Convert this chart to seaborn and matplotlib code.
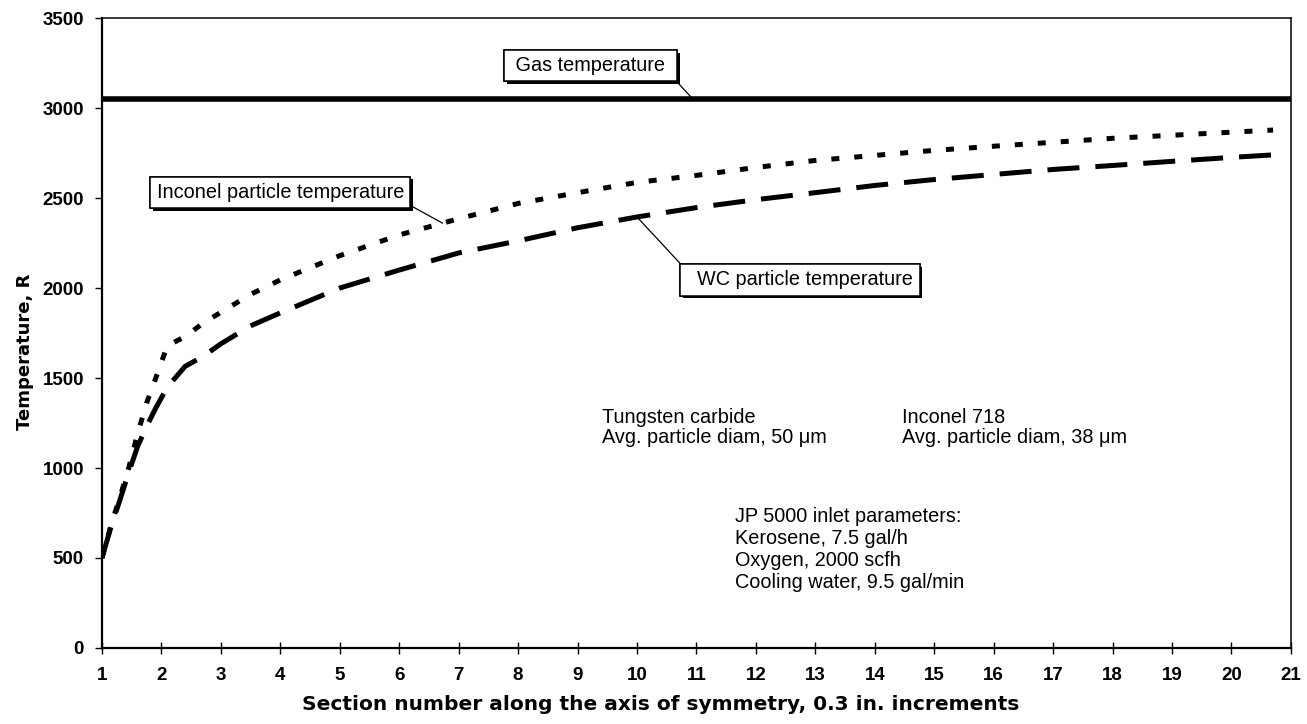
import numpy as np
import pandas as pd
import matplotlib
matplotlib.use("Agg")
import matplotlib.pyplot as plt
import seaborn as sns
from matplotlib import patheffects as pe

# Section numbers along the axis of symmetry (0.3 in. increments)
sections = [1, 1.15, 1.3, 1.45, 1.6, 1.75, 1.9, 2.1, 2.4, 2.7, 3, 3.5, 4,
            5, 6, 7, 8, 9, 10, 11, 12, 13, 14, 15, 16, 17, 18, 19, 20, 20.7]

# Particle temperatures, R
inconel_temp = [500, 680, 835, 1000, 1190, 1360, 1495, 1680, 1730, 1805, 1865, 1965, 2045,
                2180, 2295, 2385, 2470, 2530, 2587, 2626, 2670, 2709, 2737, 2765, 2788,
                2810, 2832, 2849, 2866, 2878]
wc_temp = [500, 670, 820, 975, 1120, 1230, 1330, 1450, 1565, 1620, 1690, 1790, 1862,
           2000, 2100, 2195, 2262, 2335, 2395, 2447, 2491, 2530, 2570, 2603, 2631,
           2659, 2681, 2704, 2726, 2740]

# Gas temperature, R (constant along the gun)
gas_sections = [1, 21]
gas_temp = [3050, 3050]

x_ticks = list(range(1, 22))
y_ticks = list(range(0, 3501, 500))

sns.set_theme(style="ticks")
plt.rcParams["font.family"] = ["Liberation Sans", "DejaVu Sans"]
plt.rcParams["text.color"] = "black"

df = pd.DataFrame({"section": sections, "inconel": inconel_temp, "wc": wc_temp})
gas = pd.DataFrame({"section": gas_sections, "temp": gas_temp})

fig = plt.figure(figsize=(13.07, 7.24), dpi=100)
ax = fig.add_axes([0.078, 0.105, 0.9097, 0.870])

sns.lineplot(data=gas, x="section", y="temp", ax=ax, color="black", lw=4.0)
sns.lineplot(data=df, x="section", y="inconel", ax=ax, color="black", lw=3.6)
ax.lines[-1].set_dashes([1.6, 3.0])
sns.lineplot(data=df, x="section", y="wc", ax=ax, color="black", lw=3.6)
ax.lines[-1].set_dashes([6.4, 3.2])

ax.set_xlim(1, 21)
ax.set_ylim(0, 3500)
ax.set_xticks(x_ticks)
ax.set_yticks(y_ticks)
ax.set_xticklabels([str(v) for v in x_ticks])
ax.set_yticklabels([str(v) for v in y_ticks])

for side in ("left", "bottom"):
    ax.spines[side].set_linewidth(1.6)
for side in ("top", "right"):
    ax.spines[side].set_linewidth(1.1)
for s in ax.spines.values():
    s.set_color("black")

ax.tick_params(axis="x", direction="inout", length=8, width=1.0, pad=10,
               labelsize=13.5, colors="black")
ax.tick_params(axis="y", direction="out", length=5, width=1.0, pad=8,
               labelsize=13.5, colors="black")
for lab in ax.get_xticklabels() + ax.get_yticklabels():
    lab.set_fontweight("bold")

ax.set_xlabel("Section number along the axis of symmetry, 0.3 in. increments",
              fontsize=14.5, fontweight="bold", family=["DejaVu Sans"], color="black")
ax.xaxis.set_label_coords(0.47, -0.09)
ax.xaxis.label.set_va("center")
ax.set_ylabel("Temperature, R", fontsize=13, fontweight="bold", family=["DejaVu Sans"],
              color="black")
ax.yaxis.set_label_coords(-0.065, 0.47)
ax.yaxis.label.set_va("center")

# Callout boxes with drop shadows
shadow = [pe.withSimplePatchShadow(offset=(2.0, -2.0), shadow_rgbFace="black", alpha=1.0),
          pe.Normal()]
box = dict(boxstyle="square,pad=0.32", fc="white", ec="black", lw=1.1)


def callout(text, target, text_xy, relpos):
    ann = ax.annotate(text, xy=target, xytext=text_xy, ha="center", va="center",
                      fontsize=14.3, color="black", bbox=box, zorder=5,
                      arrowprops=dict(arrowstyle="-", lw=0.9, color="black",
                                      shrinkA=0, shrinkB=0, relpos=relpos))
    ann.get_bbox_patch().set_path_effects(shadow)
    return ann


callout(" Gas temperature ", (10.94, gas_temp[0]), (9.22, 3236), (1, 0))
inc_x = 6.73
callout("Inconel particle temperature", (inc_x, np.interp(inc_x, sections, inconel_temp)),
        (4.0, 2531), (1, 0))
wc_x = 10.0
callout("  WC particle temperature", (wc_x, np.interp(wc_x, sections, wc_temp)),
        (12.74, 2046), (0, 1))

# Material and inlet notes
notes = [
    (9.41, 1249, "Tungsten carbide"),
    (9.41, 1137, "Avg. particle diam, 50 \u03bcm"),
    (14.46, 1249, "Inconel 718"),
    (14.46, 1137, "Avg. particle diam, 38 \u03bcm"),
    (11.65, 702, "JP 5000 inlet parameters:"),
    (11.65, 580, "Kerosene, 7.5 gal/h"),
    (11.65, 457, "Oxygen, 2000 scfh"),
    (11.65, 334, "Cooling water, 9.5 gal/min"),
]
for x, y, t in notes:
    ax.text(x, y, t, ha="left", va="baseline", fontsize=14.3, color="black")

fig.savefig("out.png", dpi=100)
